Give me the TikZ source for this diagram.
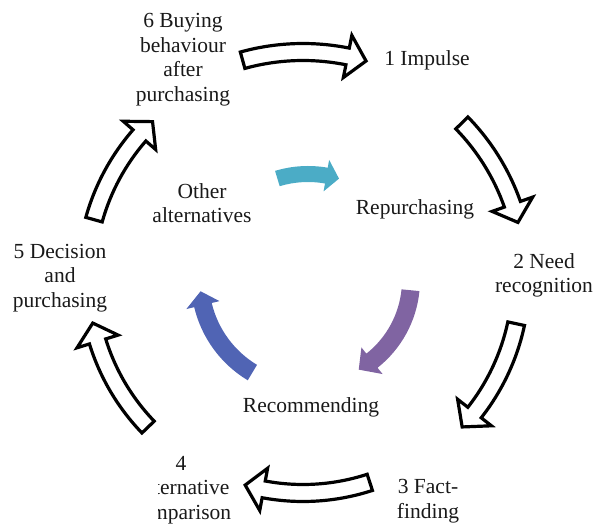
\documentclass[tikz,border=0pt]{standalone}
\usepackage{fontspec}
\setmainfont{Liberation Serif}
\newfontfamily\cycfont{Liberation Serif}
\usetikzlibrary{calc}

\definecolor{cycteal}{HTML}{4BACC6}
\definecolor{cycpurple}{HTML}{8064A2}
\definecolor{cycblue}{HTML}{5064B4}

% Curved block arrow running clockwise along a circle.
% #1 centre coordinate, #2 radius, #3 tail angle, #4 tip angle,
% #5 shaft width, #6 head width, #7 head length, #8 style
\newcommand{\bentarrow}[8]{%
  \pgfmathsetmacro{\bRo}{#2+#5/2}%
  \pgfmathsetmacro{\bRi}{#2-#5/2}%
  \pgfmathsetmacro{\bHo}{#2+#6/2}%
  \pgfmathsetmacro{\bHi}{#2-#6/2}%
  \pgfmathsetmacro{\bHb}{#4+#7/#2*180/pi}%
  \path[#8] ($(#1)+(#3:\bRo pt)$)
    arc[start angle=#3, end angle=\bHb, radius=\bRo pt]
    -- ($(#1)+(\bHb:\bHo pt)$)
    -- ($(#1)+(#4:#2 pt)$)
    -- ($(#1)+(\bHb:\bHi pt)$)
    -- ($(#1)+(\bHb:\bRi pt)$)
    arc[start angle=\bHb, end angle=#3, radius=\bRi pt]
    -- cycle;
}

\begin{document}
\begin{tikzpicture}[x=1pt, y=1pt,
  label/.style={inner sep=0pt, align=center, text=black!90,
    font=\cycfont\fontsize{21.5}{24.5}\selectfont},
  outerarrow/.style={fill=white, draw=black, line width=3.2pt, line join=miter},
  innerteal/.style={fill=cycteal},
  innerpurple/.style={fill=cycpurple},
  innerblue/.style={fill=cycblue}]
\useasboundingbox (0,0) rectangle (601,524);

\coordinate (hub) at (303,246);
\coordinate (innerhub) at (308,244);

% outer stages
\node[label] (s1) at (427,464) {1 Impulse};
\node[label] (s2) at (544,248.5) {2 Need\\recognition};
\node[label] (s3) at (428,23) {3 Fact-\\finding};
\begin{scope}
  \clip (158,0) rectangle (601,524);
  \node[label] (s4) at (181,34) {4\\Alternative\\comparison};
\end{scope}
\node[label] (s5) at (60,246) {5 Decision\\and\\purchasing};
\node[label] (s6) at (183,464.5) {6 Buying\\behaviour\\after\\purchasing};

% inner loop
\node[label] (alt) at (202,321) {Other\\alternatives};
\node[label] (rep) at (415,315) {Repurchasing};
\node[label] (rec) at (311,117) {Recommending};

% outer arrows
\bentarrow{hub}{226}{105.5}{73.8}{17}{43}{19}{outerarrow}
\bentarrow{hub}{222}{44.3}{14.5}{17}{43}{19}{outerarrow}
\bentarrow{hub}{218}{-12.1}{-43.1}{17}{43}{19}{outerarrow}
\bentarrow{hub}{215}{-71.9}{-105.6}{17}{43}{19}{outerarrow}
\bentarrow{hub}{215}{-136.1}{-167.9}{17}{43}{19}{outerarrow}
\bentarrow{hub}{217}{164.4}{133.9}{17}{43}{19}{outerarrow}

% inner arrows
\bentarrow{innerhub}{106}{106.8}{73}{16}{32}{13}{innerteal}
\bentarrow{innerhub}{103}{-5.7}{-60.5}{18}{34}{16}{innerpurple}
\bentarrow{innerhub}{108}{-121}{-174}{18}{34}{14}{innerblue}
\end{tikzpicture}
\end{document}
